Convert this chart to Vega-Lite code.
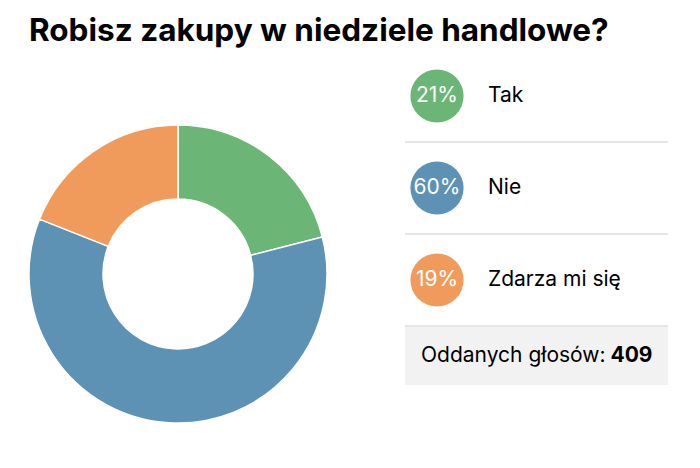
{
  "$schema": "https://vega.github.io/schema/vega-lite/v6.json",
  "padding": {"left": 23, "top": 16, "right": 0, "bottom": 0},
  "background": "white",
  "title": {"text": "Robisz zakupy w niedziele handlowe?", "anchor": "start", "font": "Inter", "fontSize": 31.5, "fontWeight": "bold", "color": "#000000", "offset": 2.5, "dx": 6},
  "datasets": {
    "answers": [
      {"answer": "Tak", "share": 0.21, "rank": 1},
      {"answer": "Nie", "share": 0.60, "rank": 2},
      {"answer": "Zdarza mi się", "share": 0.19, "rank": 3}
    ],
    "votes": [{"label": "Oddanych głosów:", "total": 409}]
  },
  "config": {"view": {"stroke": null}, "concat": {"spacing": 0}, "text": {"font": "Inter"}},
  "spacing": 71,
  "hconcat": [
    {
      "spacing": 0,
      "vconcat": [
        {"width": 310, "height": 69, "data": {"name": "votes"}, "mark": {"type": "point", "opacity": 0}, "encoding": {}},
        {
          "width": 310, "height": 310,
          "data": {"name": "answers"},
          "mark": {"type": "arc", "outerRadius": 149, "innerRadius": 75, "stroke": "#ffffff", "strokeWidth": 1.5},
          "encoding": {
            "theta": {"field": "share", "type": "quantitative", "stack": true},
            "order": {"field": "rank", "type": "quantitative"},
            "color": {"field": "answer", "type": "nominal", "scale": {"domain": ["Tak", "Nie", "Zdarza mi się"], "range": ["#6bb576", "#5e92b5", "#f09b5b"]}, "legend": null}
          }
        }
      ]
    },
    {
      "spacing": 0,
      "vconcat": [
        {
          "spacing": 0,
          "bounds": "flush",
          "hconcat": [
            {
              "width": 64, "height": 276,
              "data": {"name": "answers"},
              "encoding": {
                "y": {"field": "answer", "type": "nominal", "scale": {"type": "band", "domain": ["Tak", "Nie", "Zdarza mi się"], "paddingInner": 0, "paddingOuter": 0}, "axis": null}
              },
              "layer": [
                {"mark": {"type": "rule", "color": "#e6e6e6", "strokeWidth": 2}, "encoding": {"y": {"field": "answer", "type": "nominal", "bandPosition": 1, "axis": null}}},
                {"mark": {"type": "point", "filled": true, "opacity": 1, "size": 2827, "strokeWidth": 0},
                 "encoding": {"color": {"field": "answer", "type": "nominal", "scale": {"domain": ["Tak", "Nie", "Zdarza mi się"], "range": ["#6bb576", "#5e92b5", "#f09b5b"]}, "legend": null}}},
                {"mark": {"type": "text", "color": "#ffffff", "fontSize": 21, "baseline": "middle", "align": "center"},
                 "encoding": {"text": {"field": "share", "type": "quantitative", "format": ".0%"}}}
              ]
            },
            {
              "width": 199, "height": 276,
              "data": {"name": "answers"},
              "encoding": {
                "y": {"field": "answer", "type": "nominal", "scale": {"type": "band", "domain": ["Tak", "Nie", "Zdarza mi się"], "paddingInner": 0, "paddingOuter": 0}, "axis": null}
              },
              "layer": [
                {"mark": {"type": "rule", "color": "#e6e6e6", "strokeWidth": 2}, "encoding": {"y": {"field": "answer", "type": "nominal", "bandPosition": 1, "axis": null}}},
                {"mark": {"type": "text", "color": "#000000", "fontSize": 21, "align": "left", "baseline": "middle", "dx": 19},
                 "encoding": {"x": {"value": 0}, "text": {"field": "answer", "type": "nominal"}}}
              ]
            }
          ]
        },
        {
          "width": 263, "height": 58,
          "view": {"fill": "#f2f2f2", "stroke": null},
          "data": {"name": "votes"},
          "layer": [
            {"mark": {"type": "text", "color": "#000000", "fontSize": 21, "align": "right", "baseline": "middle", "dx": 69},
             "encoding": {"text": {"field": "label", "type": "nominal"}}},
            {"mark": {"type": "text", "color": "#000000", "fontSize": 21, "fontWeight": "bold", "align": "left", "baseline": "middle", "dx": 74},
             "encoding": {"text": {"field": "total", "type": "quantitative"}}}
          ]
        }
      ]
    }
  ]
}
